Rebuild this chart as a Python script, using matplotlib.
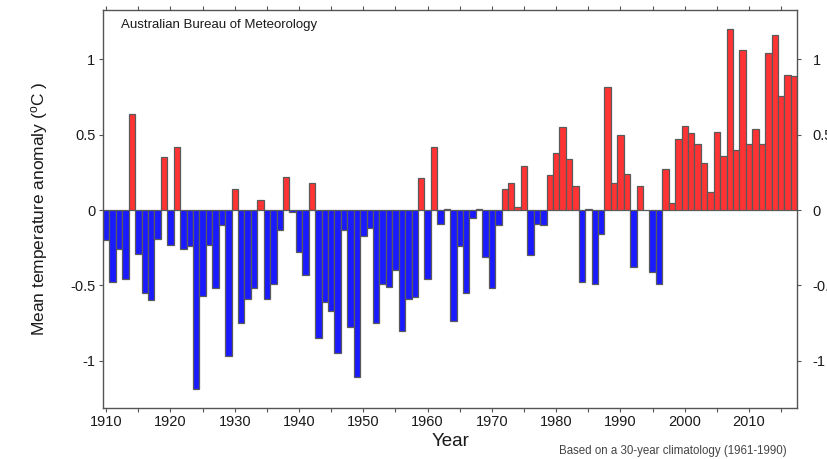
import matplotlib
matplotlib.use('Agg')
import matplotlib.pyplot as plt
import numpy as np

# Annual mean temperature anomaly, Australia (BoM), 1910-2017
years = list(range(1910, 2018))
anomaly = [
    -0.20, -0.48, -0.26, -0.46, 0.64, -0.29, -0.55, -0.60, -0.19, 0.35,   # 1910s
    -0.23, 0.42, -0.26, -0.24, -1.19, -0.57, -0.23, -0.52, -0.10, -0.97,  # 1920s
    0.14, -0.75, -0.59, -0.52, 0.07, -0.59, -0.49, -0.13, 0.22, -0.01,    # 1930s
    -0.28, -0.43, 0.18, -0.85, -0.61, -0.67, -0.95, -0.13, -0.78, -1.11,  # 1940s
    -0.17, -0.12, -0.75, -0.49, -0.51, -0.40, -0.80, -0.59, -0.58, 0.21,  # 1950s
    -0.46, 0.42, -0.09, 0.01, -0.74, -0.24, -0.55, -0.05, 0.01, -0.31,    # 1960s
    -0.52, -0.10, 0.14, 0.18, 0.02, 0.29, -0.30, -0.09, -0.10, 0.23,      # 1970s
    0.38, 0.55, 0.34, 0.16, -0.48, 0.01, -0.49, -0.16, 0.82, 0.18,        # 1980s
    0.50, 0.24, -0.38, 0.16, 0.00, -0.41, -0.49, 0.27, 0.05, 0.47,        # 1990s
    0.56, 0.51, 0.44, 0.31, 0.12, 0.52, 0.36, 1.20, 0.40, 1.06,           # 2000s
    0.44, 0.54, 0.44, 1.04, 1.16, 0.76, 0.90, 0.89,                       # 2010s
]
yticks = [-1, -0.5, 0, 0.5, 1]
ytick_labels = ['-1', '-0.5', '0', '0.5', '1']
decade_ticks = list(range(1910, 2011, 10))

RED = '#ff3333'
BLUE = '#1a1aff'
EDGE = '#5a5a5a'
TEXT = '#1a1a1a'

plt.rcParams['font.family'] = ['Liberation Sans', 'DejaVu Sans']

fig = plt.figure(figsize=(8.27, 4.59), dpi=100, facecolor='white')
ax = fig.add_axes([0.1245, 0.111, 0.964 - 0.1245, 0.867])

colors = [RED if v >= 0 else BLUE for v in anomaly]
ax.bar(years, anomaly, width=1.0, color=colors, edgecolor=EDGE, linewidth=0.9, zorder=2)

ax.set_xlim(1909.5, 2017.5)
ax.set_ylim(-1.315, 1.328)

ax.set_yticks(yticks)
ax.set_yticklabels(ytick_labels)
ax.set_xticks(decade_ticks)
ax.set_xticks(list(range(1915, 2016, 10)), minor=True)

for spine in ax.spines.values():
    spine.set_color('#555555')
    spine.set_linewidth(1.0)

ax.tick_params(axis='both', which='both', direction='out', colors='#555555',
               labelcolor=TEXT, labelsize=10.5, length=3, width=0.8)
ax.tick_params(axis='x', which='both', top=True, pad=2)
ax.tick_params(axis='y', pad=2.5)

# right-hand axis repeats the scale (labels run off the edge)
ax2 = ax.twinx()
ax2.set_ylim(ax.get_ylim())
ax2.set_yticks(yticks)
ax2.set_yticklabels(ytick_labels)
ax2.tick_params(axis='y', direction='out', colors='#555555', labelcolor=TEXT,
                labelsize=10.5, length=3, width=0.8, pad=8)
for spine in ax2.spines.values():
    spine.set_visible(False)

ax.set_ylabel('Mean temperature anomaly ($\\mathregular{^{o}}$C )', fontsize=12.5,
              color=TEXT)
ax.yaxis.set_label_coords(-0.077, 0.5)
ax.set_xlabel('Year', fontsize=13.5, color=TEXT, labelpad=3)

ax.text(0.026, 0.962, 'Australian Bureau of Meteorology', transform=ax.transAxes,
        fontsize=9.5, color=TEXT, ha='left', va='center')
fig.text(0.814, 0.004, 'Based on a 30-year climatology (1961-1990)', fontsize=8.3,
         color='#444444', ha='center', va='bottom')

fig.savefig('out.png', dpi=100, facecolor='white')
